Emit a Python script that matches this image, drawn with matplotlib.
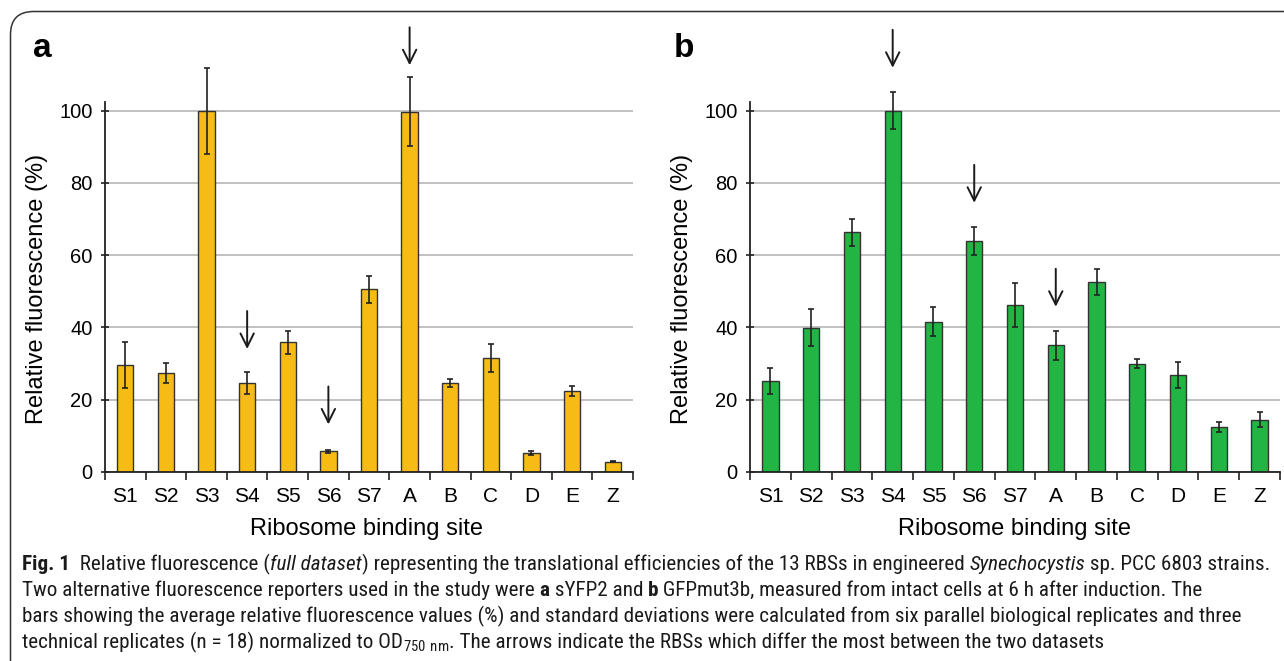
import matplotlib
matplotlib.use("Agg")
import matplotlib.pyplot as plt
from matplotlib import font_manager
from matplotlib.patches import FancyBboxPatch
from matplotlib.ticker import FixedLocator
import numpy as np

# ---------------- data ----------------
categories = ["S1", "S2", "S3", "S4", "S5", "S6", "S7", "A", "B", "C", "D", "E", "Z"]

values_a = [29.5, 27.4, 100.0, 24.5, 35.8, 5.6, 50.5, 99.7, 24.5, 31.5, 5.2, 22.4, 2.8]
errors_a = [6.4, 2.7, 11.9, 3.0, 3.1, 0.4, 3.8, 9.5, 1.1, 3.9, 0.6, 1.3, 0.2]

values_b = [25.1, 39.9, 66.3, 100.0, 41.6, 64.0, 46.2, 35.0, 52.6, 29.9, 26.8, 12.4, 14.4]
errors_b = [3.6, 5.2, 3.7, 5.2, 4.1, 3.9, 6.2, 4.1, 3.6, 1.2, 3.6, 1.4, 2.1]

arrow_cats_a = ["S4", "S6", "A"]
arrow_tips_a = [34.0, 13.1, 112.6]
arrow_cats_b = ["S4", "S6", "A"]
arrow_tips_b = [111.9, 74.5, 45.7]
arrow_len = 10.5

yticks = [0, 20, 40, 60, 80, 100]
panel_labels = ["a", "b"]
xlabel = "Ribosome binding site"
ylabel = "Relative fluorescence (%)"

color_a = "#F7BB15"
color_b = "#22B544"

W, H = 1284, 661
fig = plt.figure(figsize=(W / 100, H / 100), dpi=100)
fig.patch.set_facecolor("white")

def fx(px):
    return px / W

def fy(py):
    return 1 - py / H

YTOP = 102.5
PPU = 3.61  # pixels per unit

def make_axes(left_px, right_px):
    bottom_px = 471.7
    top_px = bottom_px - YTOP * PPU
    return fig.add_axes([fx(left_px), fy(bottom_px), (right_px - left_px) / W,
                         (bottom_px - top_px) / H])

def draw_panel(ax, vals, errs, color, arrow_cats, arrow_tips):
    x = np.arange(len(categories))
    ax.set_axisbelow(True)
    ax.yaxis.grid(True, color="#b0b0b0", lw=1.1)
    ax.bar(x, vals, width=0.4, color=color, edgecolor="#333333", lw=1.0, zorder=2)
    ax.errorbar(x, vals, yerr=errs, fmt="none", ecolor="#222222", elinewidth=1.2,
                capsize=2.3, capthick=1.2, zorder=3, clip_on=False)
    ax.set_xlim(-0.5, len(categories) - 0.5)
    ax.set_ylim(0, YTOP)
    ax.set_xticks(x)
    ax.set_xticklabels(categories, fontsize=15, family="Liberation Sans")
    ax.xaxis.set_minor_locator(FixedLocator(np.arange(-0.5, len(categories), 1.0)))
    ax.tick_params(axis="x", which="major", length=0, pad=11)
    ax.tick_params(axis="x", which="minor", length=6, width=1.2, direction="out", color="#222222")
    ax.set_yticks(yticks)
    ax.set_yticklabels([str(t) for t in yticks], fontsize=14.5, family="Liberation Sans")
    ax.tick_params(axis="y", length=6, width=1.2, direction="inout", pad=6, color="#222222")
    for s in ["top", "right"]:
        ax.spines[s].set_visible(False)
    for s in ["left", "bottom"]:
        ax.spines[s].set_linewidth(1.3)
        ax.spines[s].set_color("#222222")
    for cat, tip in zip(arrow_cats, arrow_tips):
        xi = categories.index(cat)
        ax.annotate("", xy=(xi, tip), xytext=(xi, tip + arrow_len),
                    arrowprops=dict(arrowstyle="->", lw=1.4, color="#1a1a1a",
                                    mutation_scale=24, shrinkA=0, shrinkB=0),
                    annotation_clip=False)

ax_a = make_axes(105, 633)
draw_panel(ax_a, values_a, errors_a, color_a, arrow_cats_a, arrow_tips_a)
ax_b = make_axes(750, 1280)
draw_panel(ax_b, values_b, errors_b, color_b, arrow_cats_b, arrow_tips_b)

# axis labels placed in figure pixel coords
lab_font = dict(fontsize=17, family="Liberation Sans")
fig.text(fx(37), fy(289), ylabel, rotation=90, ha="center", va="center", **lab_font)
fig.text(fx(682), fy(289), ylabel, rotation=90, ha="center", va="center", **lab_font)
fig.text(fx(367), fy(529), xlabel, ha="center", va="center", **lab_font)
fig.text(fx(1014), fy(529), xlabel, ha="center", va="center", **lab_font)

fig.text(fx(33), fy(57), panel_labels[0], fontsize=24, fontweight="bold",
         family="Liberation Sans", ha="left", va="baseline")
fig.text(fx(674), fy(57), panel_labels[1], fontsize=24, fontweight="bold",
         family="Liberation Sans", ha="left", va="baseline")

# frame
frame = FancyBboxPatch((fx(10.5), fy(700)), fx(1400), (700 - 11.5) / H,
                       boxstyle="round,pad=0,rounding_size=0.018",
                       transform=fig.transFigure, fill=False,
                       edgecolor="#333333", lw=1.1, mutation_aspect=W / H)
fig.add_artist(frame)

# ---------------- caption ----------------
cap_family = "Liberation Sans"
for cand in ["Liberation Sans Narrow", "Roboto Condensed", "Open Sans Condensed",
             "DejaVu Sans Condensed"]:
    try:
        font_manager.findfont(font_manager.FontProperties(family=cand),
                              fallback_to_default=False)
        cap_family = cand
        break
    except Exception:
        pass

caption_lines = [
    [("Fig. 1", "bold"), ("  Relative fluorescence (", "normal"), ("full dataset", "italic"),
     (") representing the translational efficiencies of the 13 RBSs in engineered ", "normal"),
     ("Synechocystis", "italic"), (" sp. PCC 6803 strains.", "normal")],
    [("Two alternative fluorescence reporters used in the study were ", "normal"), ("a", "bold"),
     (" sYFP2 and ", "normal"), ("b", "bold"),
     (" GFPmut3b, measured from intact cells at 6 h after induction. The", "normal")],
    [("bars showing the average relative fluorescence values (%) and standard deviations were "
      "calculated from six parallel biological replicates and three", "normal")],
    [("technical replicates (n = 18) normalized to OD", "normal"),
     (r"$_{\mathregular{750\ nm}}$", "normal"),
     (". The arrows indicate the RBSs which differ the most between the two datasets", "normal")],
]
baselines = [570, 596, 622, 648]
x0 = 22
target_right_line1 = 1266

renderer = fig.canvas.get_renderer()

def draw_line(segs, ybase, size):
    x = x0
    arts = []
    for txt, style in segs:
        kw = dict(fontsize=size, family=cap_family, ha="left", va="baseline",
                  color="#1a1a1a")
        if style == "bold":
            kw["fontweight"] = "bold"
        elif style == "italic":
            kw["fontstyle"] = "italic"
        t = fig.text(fx(x), fy(ybase), txt, **kw)
        bb = t.get_window_extent(renderer=renderer)
        x = bb.x1
        arts.append(t)
    return arts, x

base_size = 12.0
arts, right = draw_line(caption_lines[0], baselines[0], base_size)
for a in arts:
    a.remove()
size = base_size * (target_right_line1 - x0) / (right - x0)

for segs, yb in zip(caption_lines, baselines):
    draw_line(segs, yb, size)

fig.savefig("out.png", dpi=100, facecolor="white")
